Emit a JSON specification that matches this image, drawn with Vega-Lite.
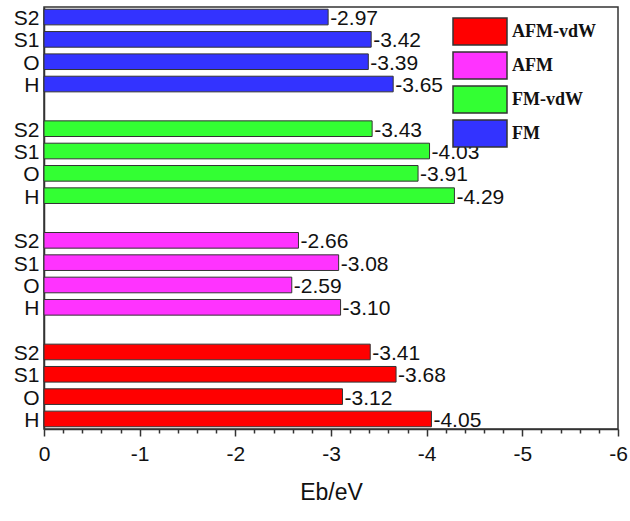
{
  "$schema": "https://vega.github.io/schema/vega-lite/v6.json",
  "width": 574,
  "height": 422,
  "autosize": "none",
  "padding": {"left": 44, "top": 7, "right": 12, "bottom": 92},
  "data": {
    "values": [
      {"key": "FM|S2", "group": "FM", "site": "S2", "value": -2.97},
      {"key": "FM|S1", "group": "FM", "site": "S1", "value": -3.42},
      {"key": "FM|O", "group": "FM", "site": "O", "value": -3.39},
      {"key": "FM|H", "group": "FM", "site": "H", "value": -3.65},
      {"key": "FMvdW|S2", "group": "FM-vdW", "site": "S2", "value": -3.43},
      {"key": "FMvdW|S1", "group": "FM-vdW", "site": "S1", "value": -4.03},
      {"key": "FMvdW|O", "group": "FM-vdW", "site": "O", "value": -3.91},
      {"key": "FMvdW|H", "group": "FM-vdW", "site": "H", "value": -4.29},
      {"key": "AFM|S2", "group": "AFM", "site": "S2", "value": -2.66},
      {"key": "AFM|S1", "group": "AFM", "site": "S1", "value": -3.08},
      {"key": "AFM|O", "group": "AFM", "site": "O", "value": -2.59},
      {"key": "AFM|H", "group": "AFM", "site": "H", "value": -3.10},
      {"key": "AFMvdW|S2", "group": "AFM-vdW", "site": "S2", "value": -3.41},
      {"key": "AFMvdW|S1", "group": "AFM-vdW", "site": "S1", "value": -3.68},
      {"key": "AFMvdW|O", "group": "AFM-vdW", "site": "O", "value": -3.12},
      {"key": "AFMvdW|H", "group": "AFM-vdW", "site": "H", "value": -4.05}
    ]
  },
  "encoding": {
    "y": {
      "field": "key",
      "type": "nominal",
      "sort": null,
      "scale": {
        "domain": ["FM|S2", "FM|S1", "FM|O", "FM|H", "gap1",
                   "FMvdW|S2", "FMvdW|S1", "FMvdW|O", "FMvdW|H", "gap2",
                   "AFM|S2", "AFM|S1", "AFM|O", "AFM|H", "gap3",
                   "AFMvdW|S2", "AFMvdW|S1", "AFMvdW|O", "AFMvdW|H"],
        "paddingInner": 0.3,
        "paddingOuter": 0.1
      },
      "axis": {
        "title": null,
        "ticks": false,
        "labelExpr": "indexof(datum.value, 'gap') == 0 ? '' : slice(datum.value, indexof(datum.value, '|') + 1)",
        "labelFont": "Liberation Sans",
        "labelFontSize": 21,
        "labelColor": "#111",
        "labelPadding": 5,
        "labelOffset": 2,
        "domainColor": "#333",
        "domainWidth": 1.5,
        "grid": false
      }
    },
    "x": {
      "field": "value",
      "type": "quantitative",
      "scale": {"domain": [0, -6], "nice": false, "zero": false}
    }
  },
  "layer": [
    {
      "mark": {"type": "bar", "stroke": "#333", "strokeWidth": 1, "opacity": 1},
      "encoding": {
        "x": {
          "field": "value",
          "type": "quantitative",
          "scale": {"domain": [0, -6], "nice": false, "zero": false},
          "axis": {
            "values": [0, -1, -2, -3, -4, -5, -6],
            "labelExpr": "datum.value == 0 ? '0' : '-' + format(abs(datum.value), 'd')",
            "labelFlush": false,
            "title": "Eb/eV",
            "titleFont": "Liberation Sans",
            "titleFontSize": 23,
            "titleFontWeight": "normal",
            "titleColor": "#111",
            "titlePadding": 17,
            "labelFont": "Liberation Sans",
            "labelFontSize": 21,
            "labelColor": "#111",
            "labelPadding": 7,
            "tickSize": 7,
            "tickColor": "#333",
            "tickWidth": 1.5,
            "domainColor": "#333",
            "domainWidth": 1.5,
            "grid": false,
            "orient": "bottom"
          }
        },
        "color": {
          "field": "group",
          "type": "nominal",
          "scale": {
            "domain": ["AFM-vdW", "AFM", "FM-vdW", "FM"],
            "range": ["#ff0000", "#ff33ff", "#33ff33", "#3333ff"]
          },
          "legend": {
            "title": null,
            "orient": "none",
            "legendX": 408,
            "legendY": 10,
            "padding": 0,
            "symbolType": "M-1,-1H3V1H-1Z",
            "symbolSize": 729,
            "symbolStrokeColor": "#333",
            "symbolStrokeWidth": 1.5,
            "symbolOpacity": 1,
            "labelFont": "Liberation Serif",
            "labelFontWeight": "bold",
            "labelFontSize": 18,
            "labelColor": "#111",
            "labelOffset": 31,
            "rowPadding": 1
          }
        }
      }
    },
    {
      "mark": {"type": "text", "align": "left", "baseline": "middle", "dx": 2, "dy": 2, "font": "Liberation Sans", "fontSize": 21, "color": "#111"},
      "encoding": {
        "x": {
          "field": "value",
          "type": "quantitative",
          "scale": {"domain": [0, -6], "nice": false, "zero": false},
          "axis": {
            "orient": "bottom",
            "values": [-0.2, -0.4, -0.6, -0.8, -1.2, -1.4, -1.6, -1.8, -2.2, -2.4, -2.6, -2.8, -3.2, -3.4, -3.6, -3.8, -4.2, -4.4, -4.6, -4.8, -5.2, -5.4, -5.6, -5.8],
            "labels": false,
            "title": null,
            "domain": false,
            "grid": false,
            "tickSize": 4,
            "tickColor": "#333",
            "tickWidth": 1.5
          }
        },
        "text": {"field": "value", "type": "quantitative", "format": ".2f"}
      }
    }
  ],
  "resolve": {"scale": {"x": "shared"}, "axis": {"x": "independent"}},
  "config": {
    "locale": {"number": {"decimal": ".", "thousands": ",", "grouping": [3], "currency": ["$", ""], "minus": "-"}},
    "view": {"stroke": "#333", "strokeWidth": 1.5}
  }
}
